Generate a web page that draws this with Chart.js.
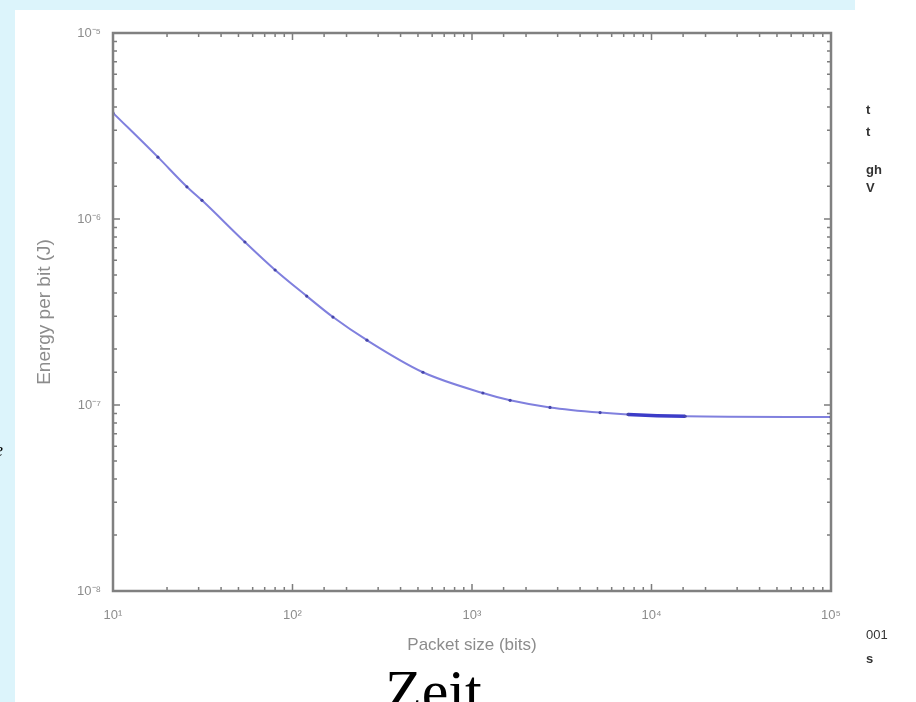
<!DOCTYPE html>
<html>
<head>
<meta charset="utf-8">
<script src="https://cdn.jsdelivr.net/npm/chart.js@4.4.1/dist/chart.umd.min.js"></script>
<style>
  body { margin: 0; width: 916px; height: 702px; overflow: hidden; background: #fff; position: relative; }
  #bandTop { position: absolute; left: 0; top: 0; width: 855px; height: 10px; background: #dcf4fb; }
  #bandLeft { position: absolute; left: 0; top: 0; width: 15px; height: 702px; background: #dcf4fb; }
  #wrap { position: absolute; left: 0; top: 0; width: 916px; height: 702px; }
  .frag { position: absolute; color: #333; font-family: "Liberation Sans", Arial, sans-serif; font-size: 13px; font-weight: bold; line-height: 1; }
  #zeit { position: absolute; left: 385px; top: 661px; font-family: "Liberation Serif", "Times New Roman", serif; font-size: 60px; line-height: 60px; color: #000; }
  #leftE { position: absolute; left: -5px; top: 440px; font-family: "Liberation Serif", serif; font-style: italic; font-size: 18px; color: #000; }
</style>
</head>
<body>
<div id="bandTop"></div>
<div id="bandLeft"></div>
<div id="wrap"><canvas id="energy" width="916" height="702"></canvas></div>
<div class="frag" style="left:866px; top:103px;">t</div>
<div class="frag" style="left:866px; top:125px;">t</div>
<div class="frag" style="left:866px; top:163px;">gh</div>
<div class="frag" style="left:866px; top:181px;">V</div>
<div class="frag" style="left:866px; top:628px; font-weight:normal;">001</div>
<div class="frag" style="left:866px; top:652px;">s</div>
<div id="leftE">e</div>
<div id="zeit">Zeit</div>
<script>
// packet size (bits) and energy per bit (J)
var packetSize = [10, 17.8, 25.8, 31.3, 54.3, 80, 120, 168, 260, 533, 1150, 1630, 2720, 5170, 7400, 15400, 100000];
var energyPerBit = [3.72e-6, 2.15e-6, 1.49e-6, 1.26e-6, 7.52e-7, 5.32e-7, 3.85e-7, 2.97e-7, 2.23e-7, 1.50e-7, 1.16e-7, 1.06e-7, 9.7e-8, 9.1e-8, 8.9e-8, 8.7e-8, 8.62e-8];
// the stretch of the flat part that is drawn darker and thicker
var boldFrom = 7400, boldTo = 15400;

var xMin = 10, xMax = 1e5;
var yMin = 1e-8, yMax = 1e-5;

var sup = {'-': '\u207B', '0': '\u2070', '1': '\u00B9', '2': '\u00B2', '3': '\u00B3',
           '4': '\u2074', '5': '\u2075', '6': '\u2076', '7': '\u2077', '8': '\u2078', '9': '\u2079'};

function isDecade(v) {
    var l = Math.log10(v);
    return Math.abs(l - Math.round(l)) < 1e-6;
}

function decadeLabel(v) {
    if (!isDecade(v)) return '';
    var e = String(Math.round(Math.log10(v)));
    return '10' + e.split('').map(function(c) { return sup[c]; }).join('');
}

function toPoints(xs, ys) {
    return xs.map(function(x, i) { return {x: x, y: ys[i]}; });
}

function inBold(seg) {
    return seg.p0.parsed.x >= boldFrom && seg.p1.parsed.x <= boldTo;
}

// matlab style frame with ticks pointing inwards
var boxPlugin = {
    id: 'matlabBox',
    afterDatasetsDraw: function(chart) {
        var ctx = chart.ctx, a = chart.chartArea;
        var sx = chart.scales.x, sy = chart.scales.y;
        ctx.save();
        ctx.strokeStyle = '#7c7c7c';
        ctx.lineWidth = 1.5;
        ctx.beginPath();
        sx.ticks.forEach(function(t) {
            var px = sx.getPixelForValue(t.value);
            var len = isDecade(t.value) ? 7 : 4;
            ctx.moveTo(px, a.bottom); ctx.lineTo(px, a.bottom - len);
            ctx.moveTo(px, a.top); ctx.lineTo(px, a.top + len);
        });
        sy.ticks.forEach(function(t) {
            var py = sy.getPixelForValue(t.value);
            var len = isDecade(t.value) ? 7 : 4;
            ctx.moveTo(a.left, py); ctx.lineTo(a.left + len, py);
            ctx.moveTo(a.right, py); ctx.lineTo(a.right - len, py);
        });
        ctx.stroke();
        ctx.lineWidth = 2.5;
        ctx.strokeStyle = '#808080';
        ctx.strokeRect(a.left, a.top, a.right - a.left, a.bottom - a.top);
        ctx.restore();
    }
};

var ctx = document.getElementById('energy');

var myChart = new Chart(ctx, {
    type: 'line',
    data: {
        datasets: [
            {
                label: 'Energy per bit',
                data: toPoints(packetSize, energyPerBit),
                borderColor: 'rgb(128, 128, 222)',
                borderWidth: 2,
                pointRadius: 1.6,
                pointBackgroundColor: 'rgb(70, 70, 170)',
                pointBorderWidth: 0,
                cubicInterpolationMode: 'monotone',
                fill: false,
                segment: {
                    borderColor: function(seg) { return inBold(seg) ? 'rgb(60, 60, 200)' : undefined; },
                    borderWidth: function(seg) { return inBold(seg) ? 3.5 : undefined; }
                }
            }
        ]
    },
    plugins: [boxPlugin],
    options: {
        responsive: false,
        animation: false,
        layout: { padding: { left: 0, right: 85, top: 33, bottom: 0 } },
        plugins: {
            legend: { display: false },
            tooltip: { enabled: false }
        },
        scales: {
            x: {
                type: 'logarithmic',
                min: xMin,
                max: xMax,
                afterFit: function(s) { s.height = 111; },
                grid: { display: false, drawTicks: false },
                border: { display: false },
                ticks: {
                    autoSkip: false,
                    maxRotation: 0,
                    padding: 17,
                    color: '#8c8c8c',
                    font: { family: 'Liberation Sans', size: 13 },
                    callback: function(v) { return decadeLabel(v); }
                },
                title: {
                    display: true,
                    text: 'Packet size (bits)',
                    color: '#8c8c8c',
                    font: { family: 'Liberation Sans', size: 17 },
                    padding: { top: 0, bottom: 46 }
                }
            },
            y: {
                type: 'logarithmic',
                min: yMin,
                max: yMax,
                afterFit: function(s) { s.width = 113; },
                grid: { display: false, drawTicks: false },
                border: { display: false },
                ticks: {
                    autoSkip: false,
                    padding: 12,
                    color: '#8c8c8c',
                    font: { family: 'Liberation Sans', size: 13 },
                    callback: function(v) { return decadeLabel(v); }
                },
                title: {
                    display: true,
                    text: 'Energy per bit (J)',
                    color: '#8c8c8c',
                    font: { family: 'Liberation Sans', size: 19 },
                    padding: { top: 33, bottom: 0 }
                }
            }
        }
    }
});
</script>
</body>
</html>
